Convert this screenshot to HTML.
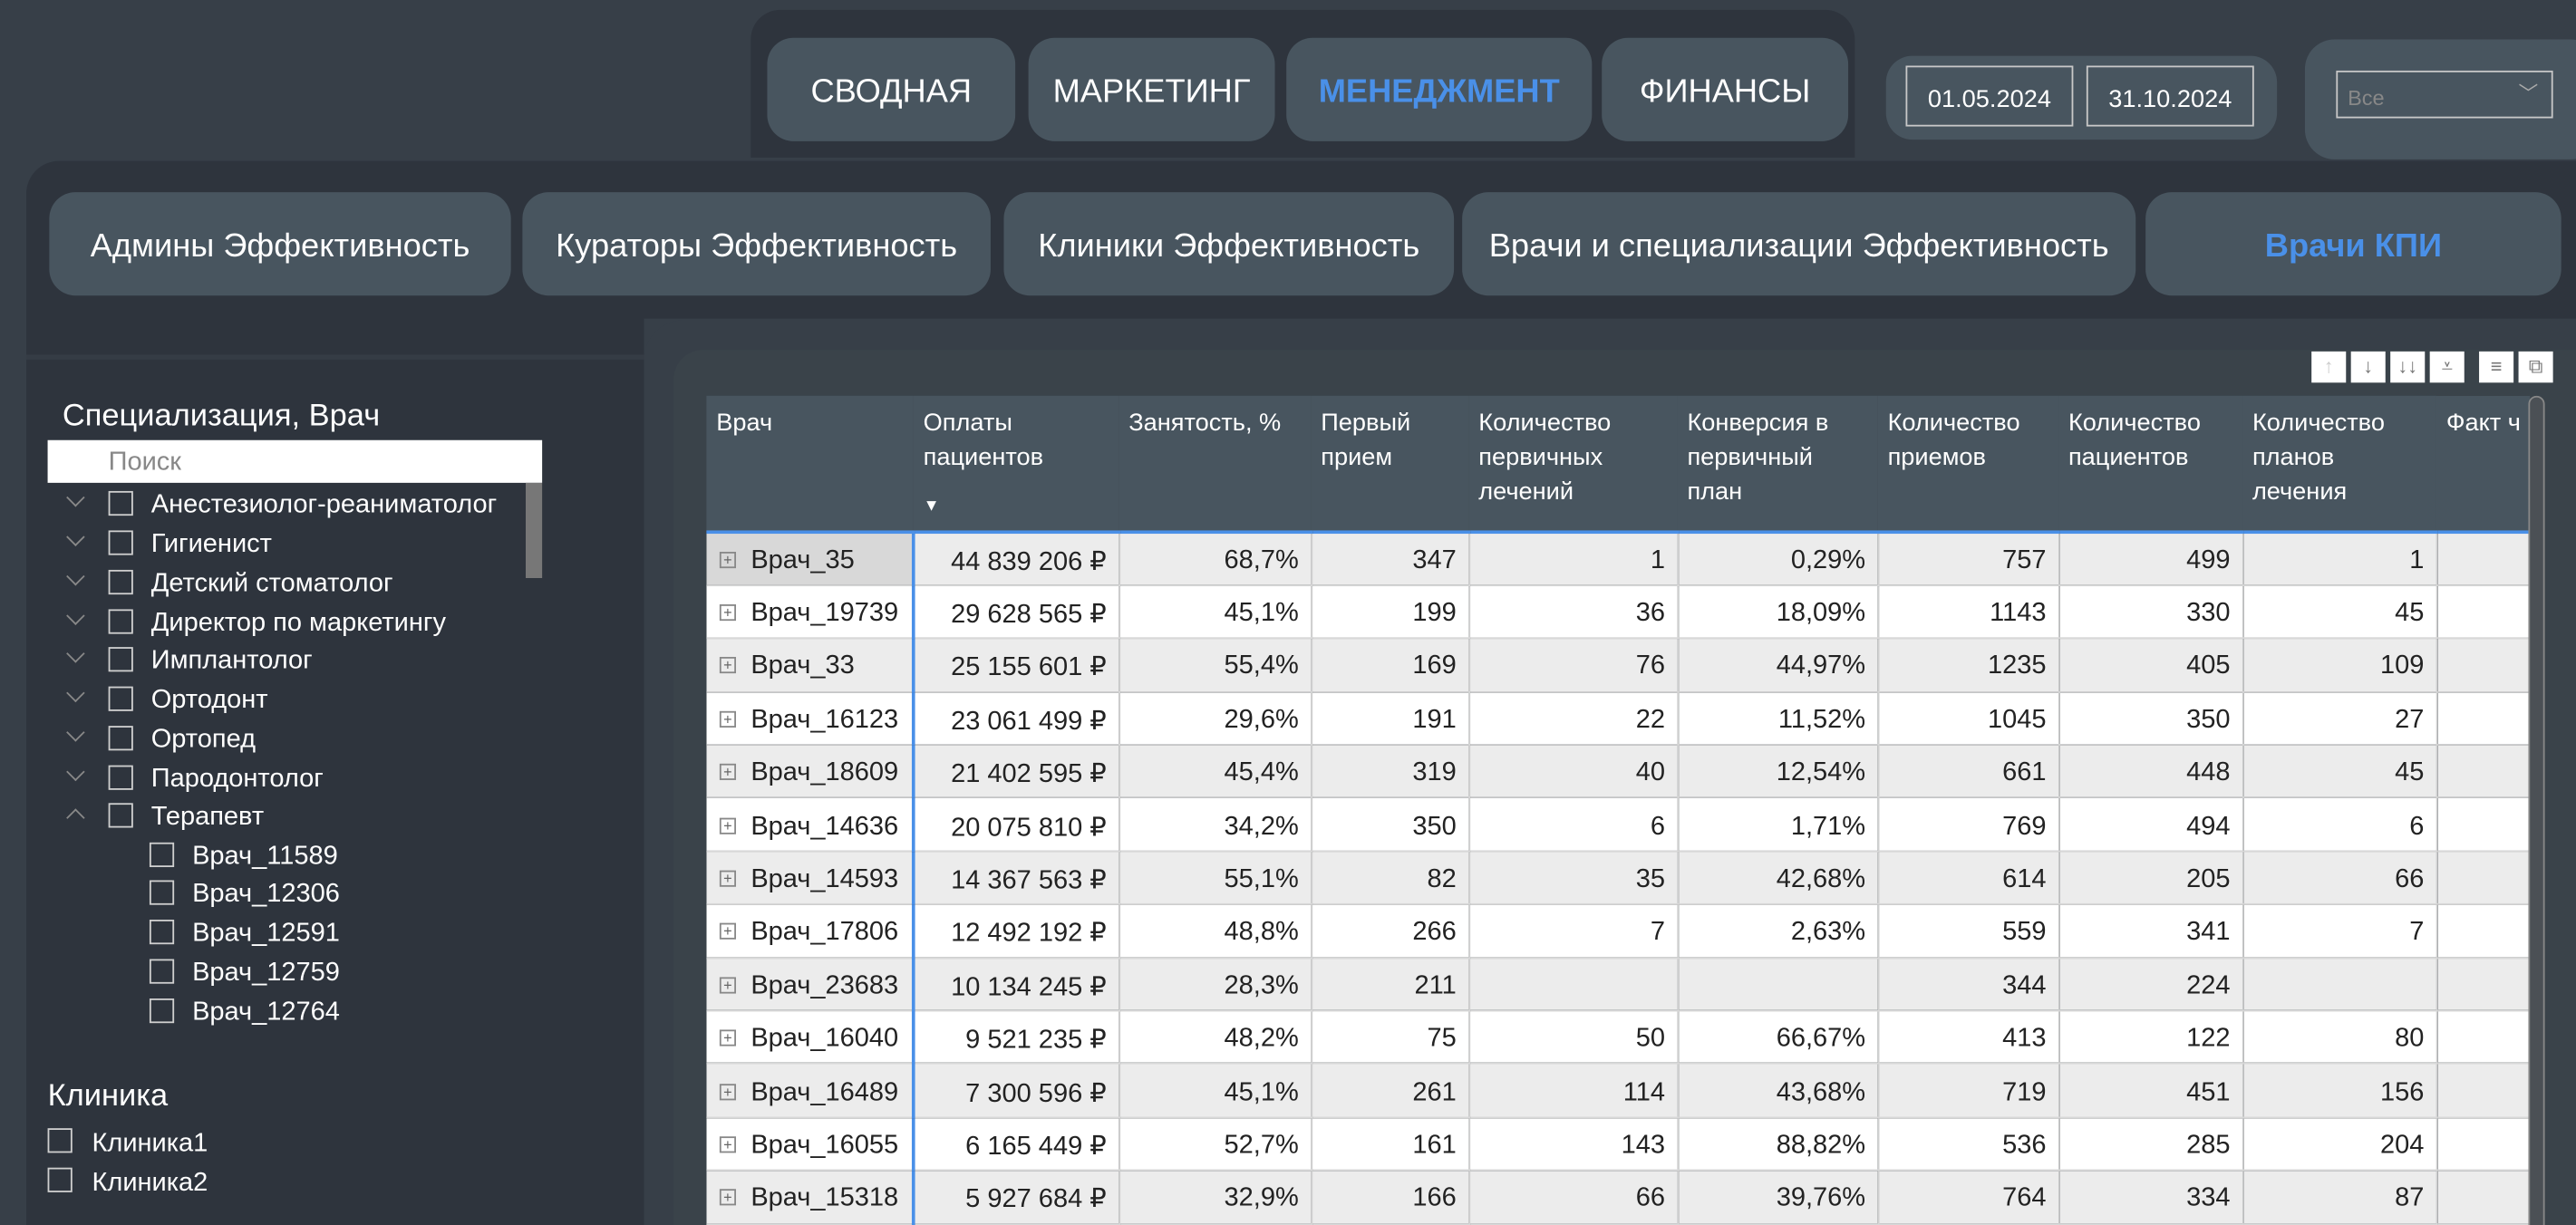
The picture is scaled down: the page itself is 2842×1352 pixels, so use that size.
<!DOCTYPE html>
<html><head><meta charset="utf-8"><style>
*{box-sizing:border-box;margin:0;padding:0}
html,body{width:2842px;height:1352px;overflow:hidden;background:#373f48}
#w{position:absolute;left:0;top:0;width:1568px;height:746px;transform:scale(1.8125);transform-origin:0 0;font-family:"Liberation Sans",sans-serif;color:#fff;overflow:hidden}
.a{position:absolute}
.btn{position:absolute;background:#48555f;border-radius:16px;display:flex;align-items:center;justify-content:center;font-size:20px;color:#fff;white-space:nowrap;padding-top:4px}
.blue{color:#4a90e8;font-weight:bold}
.date{position:absolute;border:1px solid #c8c8c8;font-size:15px;display:flex;align-items:center;justify-content:center;padding-top:3px}
.sl{position:absolute;font-size:16px;white-space:nowrap}
.cb{position:absolute;width:15px;height:15px;border:1px solid #cfcfcf}
.chev{position:absolute;width:8px;height:8px;border-right:1px solid #888;border-bottom:1px solid #888;transform:rotate(45deg)}
table{position:absolute;left:430px;top:241px;border-collapse:collapse;font-size:16px;table-layout:fixed}
th{background:#48555f;color:#fff;font-weight:normal;text-align:left;vertical-align:top;padding:6px 6px 0 6px;font-size:15px;line-height:21px;height:83px;border-bottom:2px solid #4a90e8}
td{height:32.4px;color:#222;text-align:right;padding:3px 7px 0 7px;border-right:1px solid #d0d0d0;border-bottom:1px solid #d8d8d8;white-space:nowrap;overflow:hidden}
tr:nth-child(even) td{background:#ececec}
tr:nth-child(odd) td{background:#fff}
td.n{text-align:left;padding-left:8px;border-right:2px solid #4a90e8}
.pl{display:inline-block;width:10px;height:10px;border:1px solid #888;font-size:9px;line-height:8px;text-align:center;color:#666;margin-right:9px;vertical-align:2px}
.ic{position:absolute;top:214px;width:21px;height:19px;background:#fff;color:#777;font-size:12px;text-align:center;line-height:19px}
</style></head><body><div id="w">
<div class="a" style="left:457px;top:6px;width:672px;height:90px;background:#2e343d;border-radius:18px 18px 0 0"></div>
<div class="btn" style="left:467px;top:23px;width:151px;height:63px">СВОДНАЯ</div>
<div class="btn" style="left:626px;top:23px;width:150px;height:63px">МАРКЕТИНГ</div>
<div class="btn blue" style="left:783px;top:23px;width:186px;height:63px">МЕНЕДЖМЕНТ</div>
<div class="btn" style="left:975px;top:23px;width:150px;height:63px">ФИНАНСЫ</div>
<div class="a" style="left:1148px;top:34px;width:238px;height:51px;background:#48555f;border-radius:16px"></div>
<div class="date" style="left:1160px;top:40px;width:102px;height:37px">01.05.2024</div>
<div class="date" style="left:1270px;top:40px;width:102px;height:37px">31.10.2024</div>
<div class="a" style="left:1403px;top:24px;width:180px;height:73px;background:#48555f;border-radius:18px"></div>
<div class="date" style="left:1422px;top:43px;width:132px;height:29px;justify-content:flex-start;padding-left:6px;color:#888;font-size:13px">Все<span style="position:absolute;right:8px;top:4px;font-size:12px;color:#aaa">﹀</span></div>
<div class="a" style="left:16px;top:98px;width:1570px;height:96px;background:#2e343d;border-radius:20px 0 0 0"></div>
<div class="btn" style="left:30px;top:117px;width:281px;height:63px">Админы Эффективность</div>
<div class="btn" style="left:318px;top:117px;width:285px;height:63px">Кураторы Эффективность</div>
<div class="btn" style="left:611px;top:117px;width:274px;height:63px">Клиники Эффективность</div>
<div class="btn" style="left:890px;top:117px;width:410px;height:63px">Врачи и специализации Эффективность</div>
<div class="btn blue" style="left:1306px;top:117px;width:253px;height:63px">Врачи КПИ</div>
<div class="a" style="left:16px;top:194px;width:376px;height:560px;background:#2e343d"></div>
<div class="a" style="left:16px;top:216px;width:376px;height:3px;background:#353c45"></div>
<div class="sl" style="left:38px;top:243px;font-size:19px">Специализация, Врач</div>
<div class="a" style="left:29px;top:268px;width:301px;height:26px;background:#fff;color:#888;font-size:16px;padding:5px 0 0 37px">Поиск</div>
<div class="a" style="left:320px;top:294px;width:10px;height:58px;background:#777"></div>
<div class="sl" style="left:29px;top:657px;font-size:19px">Клиника</div>
<div class="cb" style="left:29px;top:687px"></div><div class="sl" style="left:56px;top:688px">Клиника1</div>
<div class="cb" style="left:29px;top:711px"></div><div class="sl" style="left:56px;top:712px">Клиника2</div>
<div class="a" style="left:392px;top:195px;width:1200px;height:560px;background:#373f48;border-radius:24px 0 0 0"></div>
<div class="a" style="left:410px;top:213px;width:1180px;height:540px;background:#3a434a;border-radius:18px 0 0 0"></div>
<div class="ic" style="left:1407px;color:#ccc">↑</div>
<div class="ic" style="left:1431px">↓</div>
<div class="ic" style="left:1455px">↓↓</div>
<div class="ic" style="left:1479px">⩡</div>
<div class="ic" style="left:1509px">≡</div>
<div class="ic" style="left:1533px">⧉</div>
<table>
<colgroup><col style="width:126px"><col style="width:125px"><col style="width:117px"><col style="width:96px"><col style="width:127px"><col style="width:122px"><col style="width:110px"><col style="width:112px"><col style="width:118px"><col style="width:55px"></colgroup>
<tr><th>Врач</th><th>Оплаты пациентов<div style="margin-top:9px;font-size:10px">▼</div></th><th>Занятость, %</th><th>Первый прием</th><th>Количество первичных лечений</th><th>Конверсия в первичный план</th><th>Количество приемов</th><th>Количество пациентов</th><th>Количество планов лечения</th><th style="white-space:nowrap;overflow:hidden">Факт ч</th></tr>
<tr><td class="n" style="background:#d8d8d8"><span class="pl">+</span>Врач_35</td><td>44 839 206 ₽</td><td>68,7%</td><td>347</td><td>1</td><td>0,29%</td><td>757</td><td>499</td><td>1</td><td></td></tr>
<tr><td class="n"><span class="pl">+</span>Врач_19739</td><td>29 628 565 ₽</td><td>45,1%</td><td>199</td><td>36</td><td>18,09%</td><td>1143</td><td>330</td><td>45</td><td></td></tr>
<tr><td class="n"><span class="pl">+</span>Врач_33</td><td>25 155 601 ₽</td><td>55,4%</td><td>169</td><td>76</td><td>44,97%</td><td>1235</td><td>405</td><td>109</td><td></td></tr>
<tr><td class="n"><span class="pl">+</span>Врач_16123</td><td>23 061 499 ₽</td><td>29,6%</td><td>191</td><td>22</td><td>11,52%</td><td>1045</td><td>350</td><td>27</td><td></td></tr>
<tr><td class="n"><span class="pl">+</span>Врач_18609</td><td>21 402 595 ₽</td><td>45,4%</td><td>319</td><td>40</td><td>12,54%</td><td>661</td><td>448</td><td>45</td><td></td></tr>
<tr><td class="n"><span class="pl">+</span>Врач_14636</td><td>20 075 810 ₽</td><td>34,2%</td><td>350</td><td>6</td><td>1,71%</td><td>769</td><td>494</td><td>6</td><td></td></tr>
<tr><td class="n"><span class="pl">+</span>Врач_14593</td><td>14 367 563 ₽</td><td>55,1%</td><td>82</td><td>35</td><td>42,68%</td><td>614</td><td>205</td><td>66</td><td></td></tr>
<tr><td class="n"><span class="pl">+</span>Врач_17806</td><td>12 492 192 ₽</td><td>48,8%</td><td>266</td><td>7</td><td>2,63%</td><td>559</td><td>341</td><td>7</td><td></td></tr>
<tr><td class="n"><span class="pl">+</span>Врач_23683</td><td>10 134 245 ₽</td><td>28,3%</td><td>211</td><td></td><td></td><td>344</td><td>224</td><td></td><td></td></tr>
<tr><td class="n"><span class="pl">+</span>Врач_16040</td><td>9 521 235 ₽</td><td>48,2%</td><td>75</td><td>50</td><td>66,67%</td><td>413</td><td>122</td><td>80</td><td></td></tr>
<tr><td class="n"><span class="pl">+</span>Врач_16489</td><td>7 300 596 ₽</td><td>45,1%</td><td>261</td><td>114</td><td>43,68%</td><td>719</td><td>451</td><td>156</td><td></td></tr>
<tr><td class="n"><span class="pl">+</span>Врач_16055</td><td>6 165 449 ₽</td><td>52,7%</td><td>161</td><td>143</td><td>88,82%</td><td>536</td><td>285</td><td>204</td><td></td></tr>
<tr><td class="n"><span class="pl">+</span>Врач_15318</td><td>5 927 684 ₽</td><td>32,9%</td><td>166</td><td>66</td><td>39,76%</td><td>764</td><td>334</td><td>87</td><td></td></tr>
</table>
<div class="a" style="left:1539px;top:241px;width:10px;height:510px;background:#4b5055;border:1px solid #888;border-radius:5px"></div>
<div class="chev" style="left:42px;top:299px"></div><div class="cb" style="left:66px;top:299px"></div><div class="sl" style="left:92px;top:299px">Анестезиолог-реаниматолог</div>
<div class="chev" style="left:42px;top:323px"></div><div class="cb" style="left:66px;top:323px"></div><div class="sl" style="left:92px;top:323px">Гигиенист</div>
<div class="chev" style="left:42px;top:347px"></div><div class="cb" style="left:66px;top:347px"></div><div class="sl" style="left:92px;top:347px">Детский стоматолог</div>
<div class="chev" style="left:42px;top:371px"></div><div class="cb" style="left:66px;top:371px"></div><div class="sl" style="left:92px;top:371px">Директор по маркетингу</div>
<div class="chev" style="left:42px;top:394px"></div><div class="cb" style="left:66px;top:394px"></div><div class="sl" style="left:92px;top:394px">Имплантолог</div>
<div class="chev" style="left:42px;top:418px"></div><div class="cb" style="left:66px;top:418px"></div><div class="sl" style="left:92px;top:418px">Ортодонт</div>
<div class="chev" style="left:42px;top:442px"></div><div class="cb" style="left:66px;top:442px"></div><div class="sl" style="left:92px;top:442px">Ортопед</div>
<div class="chev" style="left:42px;top:466px"></div><div class="cb" style="left:66px;top:466px"></div><div class="sl" style="left:92px;top:466px">Пародонтолог</div>
<div class="chev" style="left:42px;top:494px;transform:rotate(225deg)"></div><div class="cb" style="left:66px;top:489px"></div><div class="sl" style="left:92px;top:489px">Терапевт</div>
<div class="cb" style="left:91px;top:513px"></div><div class="sl" style="left:117px;top:513px">Врач_11589</div>
<div class="cb" style="left:91px;top:536px"></div><div class="sl" style="left:117px;top:536px">Врач_12306</div>
<div class="cb" style="left:91px;top:560px"></div><div class="sl" style="left:117px;top:560px">Врач_12591</div>
<div class="cb" style="left:91px;top:584px"></div><div class="sl" style="left:117px;top:584px">Врач_12759</div>
<div class="cb" style="left:91px;top:608px"></div><div class="sl" style="left:117px;top:608px">Врач_12764</div>
</div></body></html>
